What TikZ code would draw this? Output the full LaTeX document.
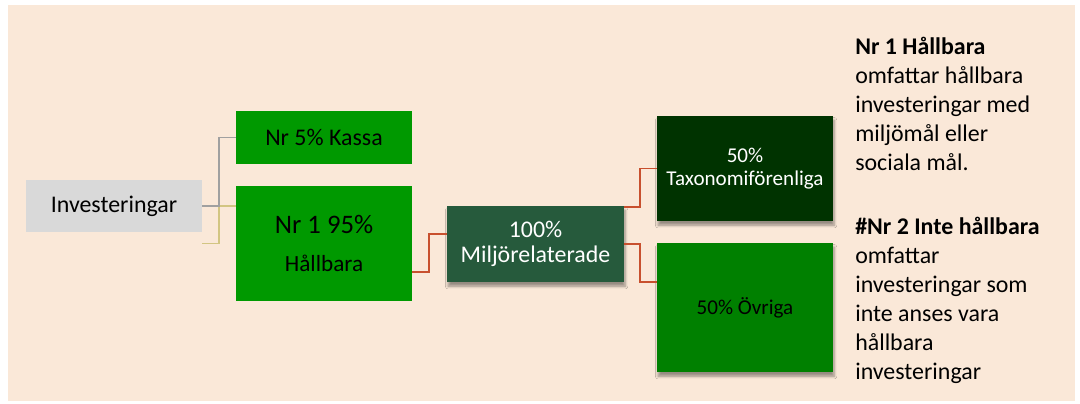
\documentclass[tikz,border=0pt]{standalone}
\usepackage{fontspec}
\setmainfont{Carlito}
\usepackage{xcolor}
\usetikzlibrary{positioning, shadows.blur}

\definecolor{bgpeach}{HTML}{FAE8D8}
\definecolor{boxgray}{HTML}{D9D9D9}
\definecolor{kassagreen}{HTML}{009900}
\definecolor{miljogreen}{HTML}{265A3C}
\definecolor{taxogreen}{HTML}{003300}
\definecolor{ovrgreen}{HTML}{008000}
\definecolor{linegray}{HTML}{A0A0A0}
\definecolor{lineolive}{HTML}{D2C582}
\definecolor{linered}{HTML}{C8502E}

\begin{document}
\begin{tikzpicture}[
  x=0.025cm, y=-0.025cm,
  box/.style={rectangle, fill=#1, minimum width=4.4cm, inner sep=0pt,
              align=center, font=\fontsize{17}{21}\selectfont},
  shadowed/.style={blur shadow={shadow xshift=0.8pt, shadow yshift=-3pt,
                   shadow blur steps=6, shadow opacity=40}},
  conn/.style={draw=#1, line width=1.3pt},
  note/.style={anchor=north west, align=left, inner sep=0pt,
               font=\fontsize{17}{20.6}\selectfont}
]

\def\colA{114}  % x of first column
\def\colB{324}  % x of second column
\def\colC{535.5}% x of middle box
\def\colD{745}  % x of last column

% --- Background ---
\useasboundingbox (0,0) rectangle (1080,403);
\fill[bgpeach] (8,5) rectangle (1075,401);

% --- Boxes ---
\node[box=boxgray, minimum height=1.3cm] (inv) at (\colA,206) {Investeringar};
\node[box=kassagreen, minimum height=1.325cm] (kassa) at (\colB,137.5)
  {Nr 5\% Kassa};
\node[box=kassagreen, minimum height=2.875cm,
      font=\fontsize{16.5}{27}\selectfont] (hall) at (\colB,243.5)
  {{\fontsize{19}{27}\selectfont Nr 1 95\%}\\Hållbara};
\node[box=miljogreen, shadowed, text=white, minimum width=4.425cm,
      minimum height=1.9cm, font=\fontsize{17}{18}\selectfont] (milj)
  at (\colC,244) {100\%\\Miljörelaterade};
\node[box=taxogreen, shadowed, text=white, minimum height=2.625cm,
      font=\fontsize{15}{16}\selectfont] (taxo) at (\colD,168.5)
  {50\%\\Taxonomiförenliga};
\node[box=ovrgreen, shadowed, minimum height=3.225cm,
      font=\fontsize{15}{16}\selectfont] (ovr) at (\colD,307.5)
  {50\% Övriga};

% --- Connectors ---
\draw[conn=lineolive] (inv.east |- hall.west) -- ++(17,0) |- (hall.west |- inv.east);
\draw[conn=linegray] (inv.east) -- ++(17,0) |- (kassa.west);
\draw[conn=linered] ([yshift=-0.7125cm]hall.east) -- ++(16.5,0)
  |- ([yshift=0.25cm]milj.west);
\draw[conn=linered] ([yshift=-1pt]milj.north east) -- ++(16,0) |- (taxo.west);
\draw[conn=linered] (milj.east) -- ++(16,0) |- ([yshift=0.6375cm]ovr.west);

% --- Notes ---
\node[note] (note1) at (855,37)
  {\textbf{Nr 1 Hållbara}\\omfattar hållbara\\investeringar med\\miljömål eller\\sociala mål.};
\node[note] (note2) at (855,217)
  {\textbf{\#Nr 2 Inte hållbara}\\omfattar\\investeringar som\\inte anses vara\\hållbara\\investeringar};

\end{tikzpicture}
\end{document}
